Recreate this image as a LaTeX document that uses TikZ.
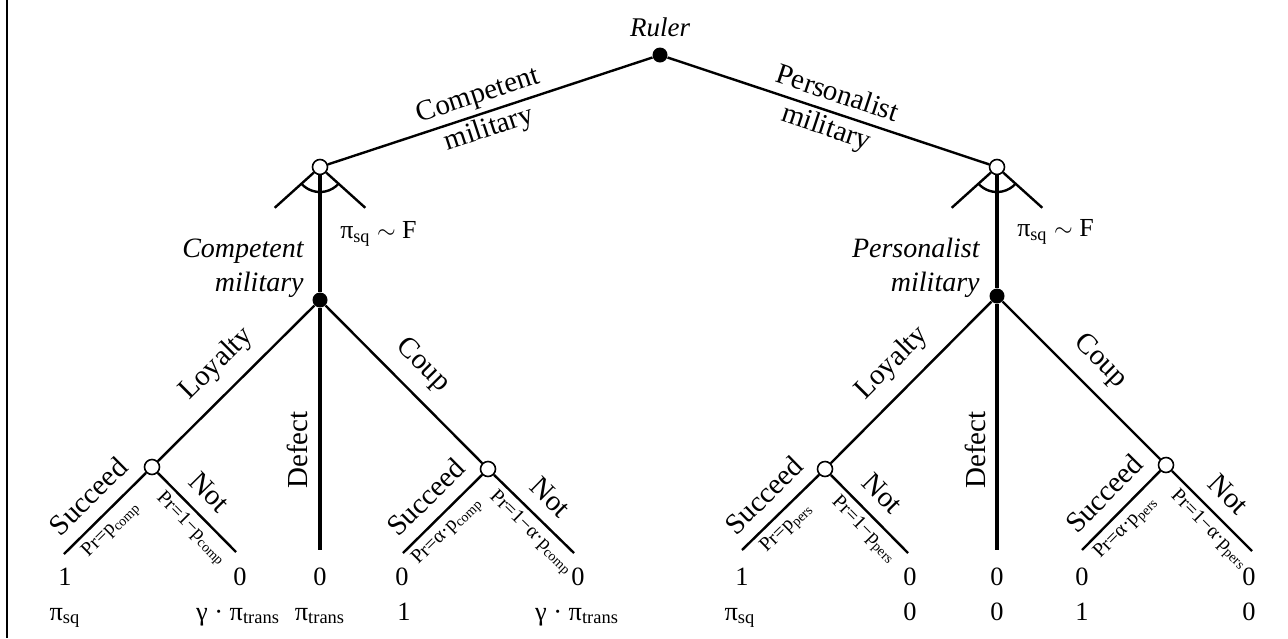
\documentclass[tikz,border=0pt]{standalone}
\usepackage{fontspec}
\setmainfont{Liberation Serif}
\usetikzlibrary{positioning}

\newcommand{\pisq}{π\textsubscript{sq}}
\newcommand{\pitrans}{π\textsubscript{trans}}

\begin{document}
\begin{tikzpicture}[x=0.5pt, y=-0.5pt,
  branch/.style={line width=1.2pt},
  vbranch/.style={line width=1.6pt},
  decnode/.style={circle, fill=black, inner sep=0pt, minimum size=7.5pt},
  chancenode/.style={circle, draw=black, fill=white, line width=0.8pt, inner sep=0pt, minimum size=7.5pt},
  lbl/.style={font=\fontsize{14.5}{17.5}\selectfont, align=center},
  elbl/.style={lbl, sloped, above=3pt},
  dist/.style={font=\fontsize{13}{15}\selectfont},
  ilbl/.style={font=\fontsize{14}{17}\selectfont\itshape, align=right},
  prob/.style={font=\fontsize{10}{11}\selectfont, sloped, below=1pt, inner sep=1.5pt},
  pay/.style={font=\fontsize{13.2}{15}\selectfont, anchor=base, inner sep=0pt}]
  \useasboundingbox (0,0) rectangle (1288,638);
  \draw[line width=1pt] (7,0) -- (7,638);

  % Ruler
  \node[decnode] (ruler) at (660,55) {};
  \node[ilbl, font=\fontsize{13.5}{16}\selectfont\itshape, above=1.5pt of ruler] (rulerlab) {Ruler};

  % Competent military
  \begin{scope}[shift={(320,0)}]
    \node[chancenode] (cc) at (0,167) {};
    \draw[branch] (cc) -- +(138:61);
    \draw[branch] (cc) -- +(42:61);
    \draw[branch] ([shift={(138:25)}]cc.center) arc[start angle=138, end angle=42, radius=25];
    \node[decnode] (cd) at (0,300) {};
    \draw[vbranch] (cc) -- (cd) node[dist, midway, right=6pt] (cdist) {\pisq{} $\sim$ F};
    \node[ilbl, anchor=south east, inner sep=0pt] (cdlab) at (-16,298) {Competent\\military};
    \node[chancenode] (cl) at (-168,467) {};
    \node[chancenode] (ck) at (168,469) {};
    \coordinate (cls) at (-256,554);
    \coordinate (cln) at (-84,552);
    \coordinate (cdt) at (0,550);
    \coordinate (cks) at (83,553);
    \coordinate (ckn) at (254,553);
    \draw[branch] (cd) -- (cl) node[elbl, midway] (cloy) {Loyalty};
    \draw[vbranch] (cd) -- (cdt);
    \node[lbl, rotate=90] (cdef) at (-23,450) {Defect};
    \draw[branch] (cd) -- (ck) node[elbl, midway] (ccoup) {Coup};
    \draw[branch] (cl) -- (cls) node[elbl, midway] (clsu) {Succeed}
      node[prob, pos=.56] (clsp) {Pr=p\textsubscript{comp}};
    \draw[branch] (cl) -- (cln) node[elbl, pos=.45] (clno) {Not}
      node[prob, pos=.57] (clnp) {Pr=1−p\textsubscript{comp}};
    \draw[branch] (ck) -- (cks) node[elbl, midway] (cksu) {Succeed}
      node[prob, pos=.58] (cksp) {Pr=α·p\textsubscript{comp}};
    \draw[branch] (ck) -- (ckn) node[elbl, pos=.5] (ckno) {Not}
      node[prob, pos=.6] (cknp) {Pr=1−α·p\textsubscript{comp}};
    % payoffs
    \node[pay] (c1a) at (-255,585) {1};
    \node[pay] (c1b) at (-255,620) {\pisq};
    \node[pay] (c2a) at (-80,585) {0};
    \node[pay] (c2b) at (-82,620) {γ · \pitrans};
    \node[pay] (c3a) at (0,585) {0};
    \node[pay] (c3b) at (0,620) {\pitrans};
    \node[pay] (c4a) at (82,585) {0};
    \node[pay] (c4b) at (84,620) {1};
    \node[pay] (c5a) at (258,585) {0};
    \node[pay] (c5b) at (257,620) {γ · \pitrans};
  \end{scope}

  % Personalist military
  \begin{scope}[shift={(997,0)}]
    \node[chancenode] (pc) at (0,167) {};
    \draw[branch] (pc) -- +(138:61);
    \draw[branch] (pc) -- +(42:61);
    \draw[branch] ([shift={(138:25)}]pc.center) arc[start angle=138, end angle=42, radius=25];
    \node[decnode] (pd) at (0,296) {};
    \draw[vbranch] (pc) -- (pd) node[dist, midway, right=6pt] (pdist) {\pisq{} $\sim$ F};
    \node[ilbl, anchor=south east, inner sep=0pt] (pdlab) at (-17,298) {Personalist\\military};
    \node[chancenode] (pl) at (-172,469) {};
    \node[chancenode] (pk) at (169,465) {};
    \coordinate (pls) at (-255,550);
    \coordinate (pln) at (-89,553);
    \coordinate (pdt) at (0,550);
    \coordinate (pks) at (85,550);
    \coordinate (pkn) at (255,551);
    \draw[branch] (pd) -- (pl) node[elbl, midway] (ploy) {Loyalty};
    \draw[vbranch] (pd) -- (pdt);
    \node[lbl, rotate=90] (pdef) at (-22,450) {Defect};
    \draw[branch] (pd) -- (pk) node[elbl, midway] (pcoup) {Coup};
    \draw[branch] (pl) -- (pls) node[elbl, midway] (plsu) {Succeed}
      node[prob, pos=.56] (plsp) {Pr=p\textsubscript{pers}};
    \draw[branch] (pl) -- (pln) node[elbl, pos=.45] (plno) {Not}
      node[prob, pos=.57] (plnp) {Pr=1−p\textsubscript{pers}};
    \draw[branch] (pk) -- (pks) node[elbl, midway] (pksu) {Succeed}
      node[prob, pos=.58] (pksp) {Pr=α·p\textsubscript{pers}};
    \draw[branch] (pk) -- (pkn) node[elbl, pos=.5] (pkno) {Not}
      node[prob, pos=.6] (pknp) {Pr=1−α·p\textsubscript{pers}};
    % payoffs
    \node[pay] (p1a) at (-255,585) {1};
    \node[pay] (p1b) at (-257,620) {\pisq};
    \node[pay] (p2a) at (-87,585) {0};
    \node[pay] (p2b) at (-87,620) {0};
    \node[pay] (p3a) at (0,585) {0};
    \node[pay] (p3b) at (0,620) {0};
    \node[pay] (p4a) at (85,585) {0};
    \node[pay] (p4b) at (85,620) {1};
    \node[pay] (p5a) at (252,585) {0};
    \node[pay] (p5b) at (252,620) {0};
  \end{scope}

  % first move
  \draw[branch] (ruler) -- (cc) node[lbl, sloped, pos=.52] (cmil) {Competent\\military};
  \draw[branch] (ruler) -- (pc) node[lbl, sloped, pos=.51] (pmil) {Personalist\\military};
\end{tikzpicture}
\end{document}
